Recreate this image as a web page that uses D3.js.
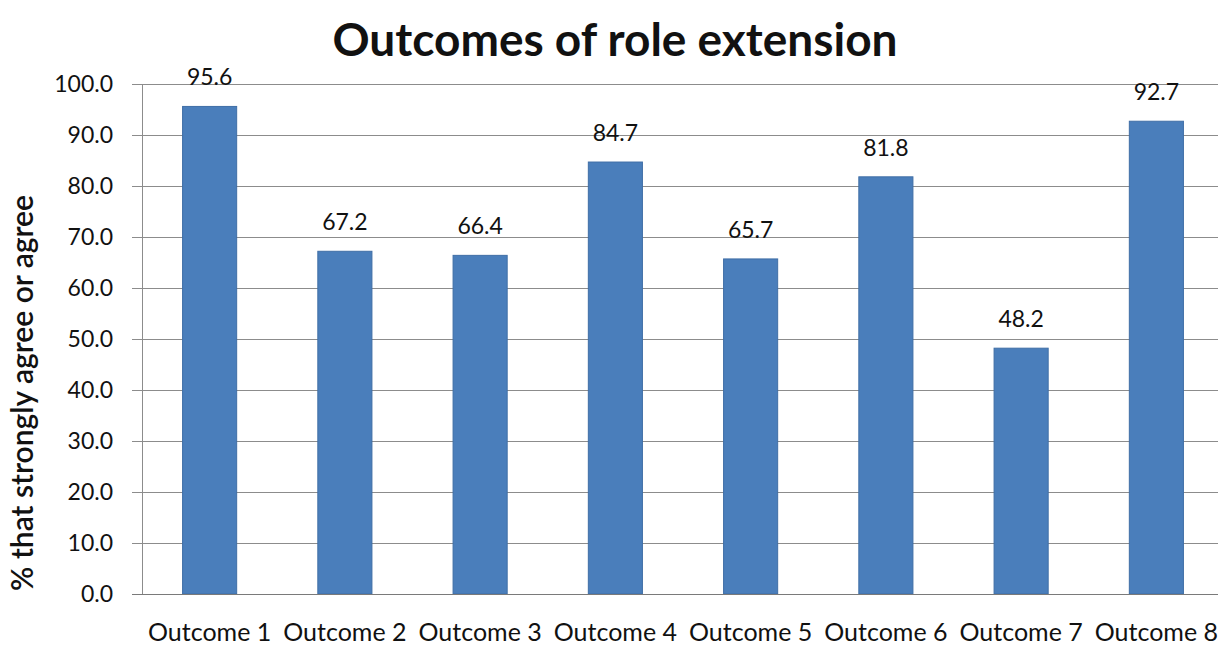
<!DOCTYPE html>
<html>
<head>
<meta charset="utf-8">
<script src="https://cdn.jsdelivr.net/npm/d3@7"></script>
<style>
  html, body { margin: 0; padding: 0; background: #fff; }
  svg { display: block; }
  text { font-family: Lato, "Open Sans", sans-serif; fill: #111; }
</style>
</head>
<body>
<svg id="chart" width="1218" height="646"></svg>
<script>
const categories = ["Outcome 1", "Outcome 2", "Outcome 3", "Outcome 4",
                    "Outcome 5", "Outcome 6", "Outcome 7", "Outcome 8"];
const values = [95.6, 67.2, 66.4, 84.7, 65.7, 81.8, 48.2, 92.7];
const yTicks = [0, 10, 20, 30, 40, 50, 60, 70, 80, 90, 100];
const title = "Outcomes of role extension";
const yTitle = "% that strongly agree or agree";

const svg = d3.select("#chart");
const W = 1218, H = 646;
const plot = { left: 142, right: 1224, top: 84, bottom: 594 };

const x = d3.scaleBand()
  .domain(categories)
  .range([plot.left, plot.right])
  .paddingInner(0.6)
  .paddingOuter(0.3);

const y = d3.scaleLinear()
  .domain([0, 100])
  .range([plot.bottom, plot.top]);

// horizontal gridlines with short ticks left of the axis
svg.append("g")
  .selectAll("line")
  .data(yTicks.filter(d => d > 0))
  .join("line")
  .attr("x1", plot.left - 10)
  .attr("x2", W)
  .attr("y1", d => Math.round(y(d)) + 0.5)
  .attr("y2", d => Math.round(y(d)) + 0.5)
  .attr("stroke", "#8c8c8c")
  .attr("stroke-width", 1);

// y tick labels
svg.append("g")
  .selectAll("text")
  .data(yTicks)
  .join("text")
  .attr("x", 113)
  .attr("y", d => y(d))
  .attr("dy", "0.36em")
  .attr("text-anchor", "end")
  .attr("font-size", 23)
  .text(d => d.toFixed(1));

// bars
svg.append("g")
  .selectAll("rect")
  .data(values)
  .join("rect")
  .attr("x", (d, i) => x(categories[i]))
  .attr("y", d => y(d))
  .attr("width", x.bandwidth())
  .attr("height", d => y(0) - y(d))
  .attr("fill", "#4a7ebb")
  .attr("stroke", "#3f6ea6")
  .attr("stroke-width", 1);

// value labels
svg.append("g")
  .selectAll("text")
  .data(values)
  .join("text")
  .attr("x", (d, i) => x(categories[i]) + x.bandwidth() / 2)
  .attr("y", d => y(d) - 21)
  .attr("text-anchor", "middle")
  .attr("font-size", 23)
  .text(d => d.toFixed(1));

// axes lines
svg.append("line")
  .attr("x1", plot.left + 0.5).attr("x2", plot.left + 0.5)
  .attr("y1", plot.top).attr("y2", plot.bottom)
  .attr("stroke", "#8c8c8c");
svg.append("line")
  .attr("x1", plot.left - 10).attr("x2", W)
  .attr("y1", plot.bottom + 0.5).attr("y2", plot.bottom + 0.5)
  .attr("stroke", "#7a7a7a");

// category labels
svg.append("g")
  .selectAll("text")
  .data(categories)
  .join("text")
  .attr("x", d => x(d) + x.bandwidth() / 2)
  .attr("y", 641)
  .attr("text-anchor", "middle")
  .attr("font-size", 25)
  .text(d => d);

// chart title
svg.append("text")
  .attr("x", 615)
  .attr("y", 56)
  .attr("text-anchor", "middle")
  .attr("font-size", 46)
  .attr("font-weight", 700)
  .text(title);

// y axis title
svg.append("text")
  .attr("transform", "translate(33,393) rotate(-90)")
  .attr("text-anchor", "middle")
  .attr("font-size", 30)
  .attr("font-weight", 600)
  .text(yTitle);
</script>
</body>
</html>
